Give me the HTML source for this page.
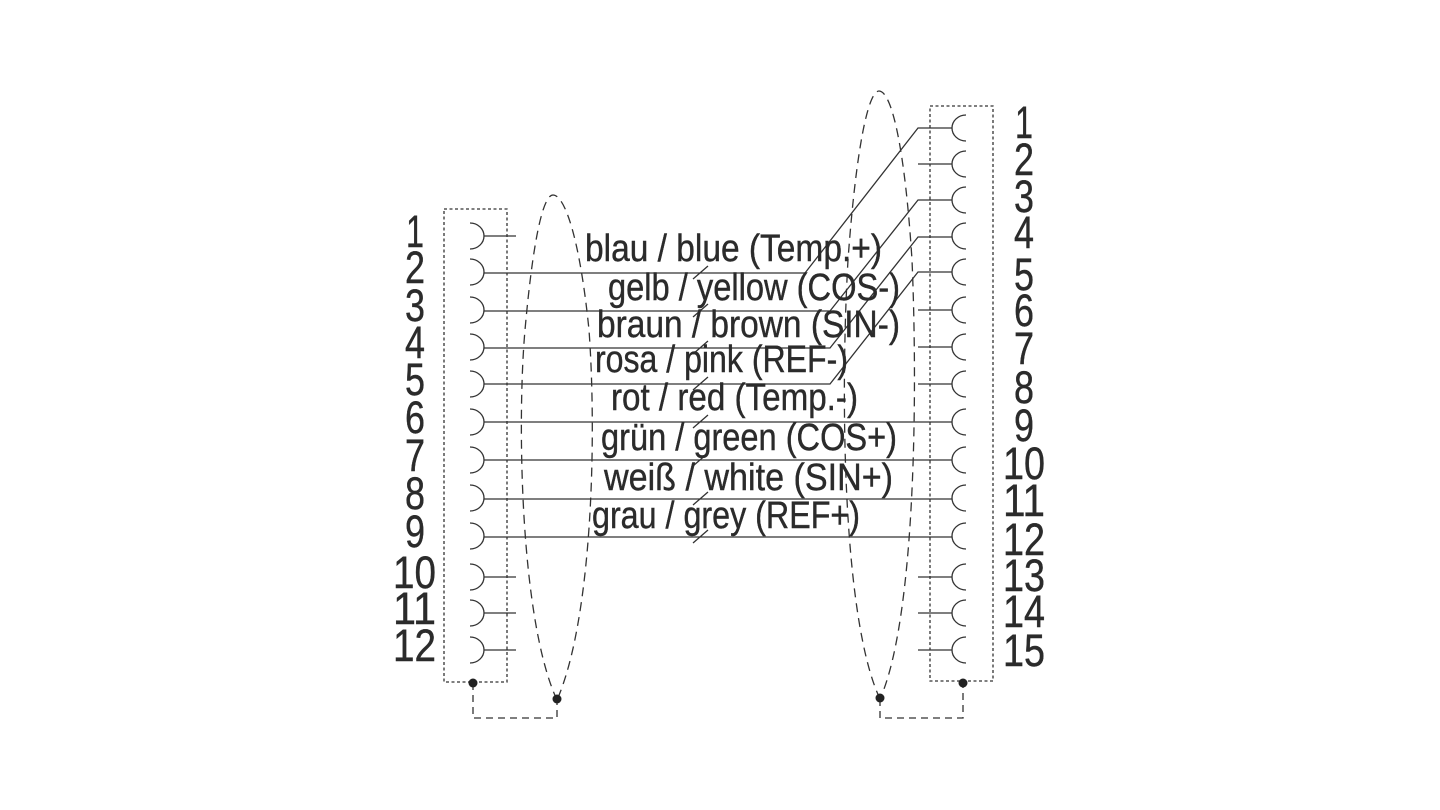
<!DOCTYPE html>
<html><head><meta charset="utf-8"><style>
html,body{margin:0;padding:0;background:#fff;}
svg{display:block;}
text{font-family:"Liberation Sans Narrow","Liberation Sans",sans-serif;fill:#2b2b2b;stroke:#2b2b2b;stroke-width:0.4;}
</style></head><body>
<svg width="1440" height="810" viewBox="0 0 1440 810" xmlns="http://www.w3.org/2000/svg">
<g fill="none" stroke="#333" stroke-width="1.3">
<rect x="444" y="209" width="63" height="473" stroke-dasharray="3,2.5"/>
<rect x="930" y="106" width="63" height="575" stroke-dasharray="3,2.5"/>
<path d="M557,700 C520,620 517,420 525,330 C533,240 543,195 553,195 C565,195 580,240 589,330 C597,440 592,620 557,700" stroke-dasharray="9,6"/>
<path d="M880,699 C843,620 840,400 848,260 C856,150 868,91 879,91 C892,91 905,150 912,260 C918,400 915,620 880,699" stroke-dasharray="9,6"/>
<path d="M473,683 V718 H557 V700" stroke-dasharray="7,5"/>
<path d="M880,699 V718 H963 V683" stroke-dasharray="7,5"/>
<path d="M470,223 A14,13 0 0 1 470,249 M484,236 H516"/>
<path d="M470,259 A14,13 0 0 1 470,285"/>
<path d="M470,297 A14,13 0 0 1 470,323"/>
<path d="M470,334 A14,13 0 0 1 470,360"/>
<path d="M470,371 A14,13 0 0 1 470,397"/>
<path d="M470,409 A14,13 0 0 1 470,435"/>
<path d="M470,447 A14,13 0 0 1 470,473"/>
<path d="M470,485 A14,13 0 0 1 470,511"/>
<path d="M470,523 A14,13 0 0 1 470,549"/>
<path d="M470,564 A14,13 0 0 1 470,590 M484,577 H516"/>
<path d="M470,600 A14,13 0 0 1 470,626 M484,613 H516"/>
<path d="M470,637 A14,13 0 0 1 470,663 M484,650 H516"/>
<path d="M966,115 A14,13 0 0 0 966,141"/>
<path d="M966,151 A14,13 0 0 0 966,177 M918,164 H952"/>
<path d="M966,187 A14,13 0 0 0 966,213"/>
<path d="M966,223 A14,13 0 0 0 966,249"/>
<path d="M966,259 A14,13 0 0 0 966,285"/>
<path d="M966,297 A14,13 0 0 0 966,323 M918,310 H952"/>
<path d="M966,334 A14,13 0 0 0 966,360 M918,347 H952"/>
<path d="M966,371 A14,13 0 0 0 966,397 M918,384 H952"/>
<path d="M966,409 A14,13 0 0 0 966,435"/>
<path d="M966,447 A14,13 0 0 0 966,473"/>
<path d="M966,485 A14,13 0 0 0 966,511"/>
<path d="M966,523 A14,13 0 0 0 966,549"/>
<path d="M966,564 A14,13 0 0 0 966,590 M918,577 H952"/>
<path d="M966,600 A14,13 0 0 0 966,626 M918,613 H952"/>
<path d="M966,637 A14,13 0 0 0 966,663 M918,650 H952"/>
<path d="M484,273 H805 L918,128 H952"/>
<path d="M484,311 H830 L918,200 H952"/>
<path d="M484,348 H830 L918,237 H952"/>
<path d="M484,384 H830 L918,272 H952"/>
<path d="M484,422 H952"/>
<path d="M484,460 H952"/>
<path d="M484,499 H952"/>
<path d="M484,537 H952"/>
<path d="M693,279 L708,266 M693,317 L708,304 M693,354 L708,341 M693,390 L708,377 M693,428 L708,415 M693,466 L708,453 M693,505 L708,492 M693,543 L708,530"/>
</g>
<g fill="#222">
<circle cx="473" cy="683" r="4.5"/><circle cx="557" cy="699" r="4.5"/>
<circle cx="880" cy="698" r="4.5"/><circle cx="963" cy="683" r="4.5"/>
</g>
<g font-size="38">
<text x="585" y="261" textLength="297" lengthAdjust="spacingAndGlyphs">blau / blue (Temp.+)</text>
<text x="608" y="300" textLength="292" lengthAdjust="spacingAndGlyphs">gelb / yellow (COS-)</text>
<text x="597" y="337" textLength="303" lengthAdjust="spacingAndGlyphs">braun / brown (SIN-)</text>
<text x="595" y="372" textLength="253" lengthAdjust="spacingAndGlyphs">rosa / pink (REF-)</text>
<text x="611" y="410" textLength="247" lengthAdjust="spacingAndGlyphs">rot / red (Temp.-)</text>
<text x="601" y="450" textLength="296" lengthAdjust="spacingAndGlyphs">grün / green (COS+)</text>
<text x="604" y="490" textLength="289" lengthAdjust="spacingAndGlyphs">weiß / white (SIN+)</text>
<text x="592" y="528" textLength="268" lengthAdjust="spacingAndGlyphs">grau / grey (REF+)</text>
</g>
<g font-size="45" lengthAdjust="spacingAndGlyphs">
<text x="406" y="247" textLength="18" lengthAdjust="spacingAndGlyphs">1</text>
<text x="405" y="283" textLength="20" lengthAdjust="spacingAndGlyphs">2</text>
<text x="405" y="321" textLength="20" lengthAdjust="spacingAndGlyphs">3</text>
<text x="405" y="358" textLength="20" lengthAdjust="spacingAndGlyphs">4</text>
<text x="405" y="395" textLength="20" lengthAdjust="spacingAndGlyphs">5</text>
<text x="405" y="433" textLength="20" lengthAdjust="spacingAndGlyphs">6</text>
<text x="405" y="471" textLength="20" lengthAdjust="spacingAndGlyphs">7</text>
<text x="405" y="509" textLength="20" lengthAdjust="spacingAndGlyphs">8</text>
<text x="405" y="547" textLength="20" lengthAdjust="spacingAndGlyphs">9</text>
<text x="393" y="588" textLength="43" lengthAdjust="spacingAndGlyphs">10</text>
<text x="393" y="624" textLength="43" lengthAdjust="spacingAndGlyphs">11</text>
<text x="393" y="661" textLength="43" lengthAdjust="spacingAndGlyphs">12</text>
<text x="1015" y="138" textLength="18" lengthAdjust="spacingAndGlyphs">1</text>
<text x="1014" y="175" textLength="20" lengthAdjust="spacingAndGlyphs">2</text>
<text x="1014" y="212" textLength="20" lengthAdjust="spacingAndGlyphs">3</text>
<text x="1014" y="248" textLength="20" lengthAdjust="spacingAndGlyphs">4</text>
<text x="1014" y="290" textLength="20" lengthAdjust="spacingAndGlyphs">5</text>
<text x="1014" y="326" textLength="20" lengthAdjust="spacingAndGlyphs">6</text>
<text x="1014" y="364" textLength="20" lengthAdjust="spacingAndGlyphs">7</text>
<text x="1014" y="403" textLength="20" lengthAdjust="spacingAndGlyphs">8</text>
<text x="1014" y="441" textLength="20" lengthAdjust="spacingAndGlyphs">9</text>
<text x="1003" y="479" textLength="42" lengthAdjust="spacingAndGlyphs">10</text>
<text x="1003" y="516" textLength="42" lengthAdjust="spacingAndGlyphs">11</text>
<text x="1003" y="555" textLength="42" lengthAdjust="spacingAndGlyphs">12</text>
<text x="1003" y="591" textLength="42" lengthAdjust="spacingAndGlyphs">13</text>
<text x="1003" y="627" textLength="42" lengthAdjust="spacingAndGlyphs">14</text>
<text x="1003" y="666" textLength="42" lengthAdjust="spacingAndGlyphs">15</text>
</g>
</svg>
</body></html>
